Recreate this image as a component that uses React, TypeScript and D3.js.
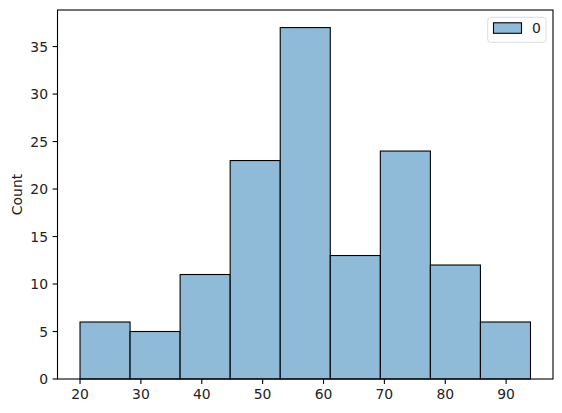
import React from "react";
import * as d3 from "d3";

const binEdges = [20, 28.222, 36.444, 44.667, 52.889, 61.111, 69.333, 77.556, 85.778, 94];
const counts = [6, 5, 11, 23, 37, 13, 24, 12, 6];
const xTicks = [20, 30, 40, 50, 60, 70, 80, 90];
const yTicks = [0, 5, 10, 15, 20, 25, 30, 35];
const seriesName = "0";

export default function App() {
  const W = 562, H = 413;
  const L = 57.5, R = 553, T = 10, B = 379;
  const xMin = binEdges[0], xMax = binEdges[binEdges.length - 1];
  const pad = (xMax - xMin) * 0.05;
  const x = d3.scaleLinear().domain([xMin - pad, xMax + pad]).range([L, R]);
  const yMax = d3.max(counts)! * 1.05;
  const y = d3.scaleLinear().domain([0, yMax]).range([B, T]);
  const font = "DejaVu Sans, sans-serif";
  const fill = "rgb(143,187,217)";
  return (
    <svg width={W} height={H} style={{ position: "absolute", left: 0, top: 0 }} fontFamily={font}>
      <rect x={0} y={0} width={W} height={H} fill="white" />
      {counts.map((c, i) => (
        <rect key={i} x={x(binEdges[i])} y={y(c)} width={x(binEdges[i + 1]) - x(binEdges[i])} height={y(0) - y(c)}
          fill={fill} stroke="black" strokeWidth={1.1} />
      ))}
      <rect x={L} y={T} width={R - L} height={B - T} fill="none" stroke="black" strokeWidth={1.1} />
      {xTicks.map((t) => (
        <g key={t}>
          <line x1={x(t)} x2={x(t)} y1={B} y2={B + 4.9} stroke="black" strokeWidth={1.1} />
          <text x={x(t)} y={B + 19.5} textAnchor="middle" fontSize={13.9} fill="#222">{t}</text>
        </g>
      ))}
      {yTicks.map((t) => (
        <g key={t}>
          <line x1={L - 4.9} x2={L} y1={y(t)} y2={y(t)} stroke="black" strokeWidth={1.1} />
          <text x={L - 9.5} y={y(t) + 5} textAnchor="end" fontSize={13.9} fill="#222">{t}</text>
        </g>
      ))}
      <text transform={`translate(21.5,${(T + B) / 2}) rotate(-90)`} textAnchor="middle" fontSize={13.9} fill="#222">Count</text>
      <g>
        <rect x={487.7} y={17.3} width={58.3} height={25} rx={3} fill="white" stroke="#ddd" strokeWidth={1} />
        <rect x={493.5} y={22.8} width={28} height={10.5} fill={fill} stroke="black" strokeWidth={1.1} />
        <text x={532} y={33} fontSize={13.9} fill="#222">{seriesName}</text>
      </g>
    </svg>
  );
}
